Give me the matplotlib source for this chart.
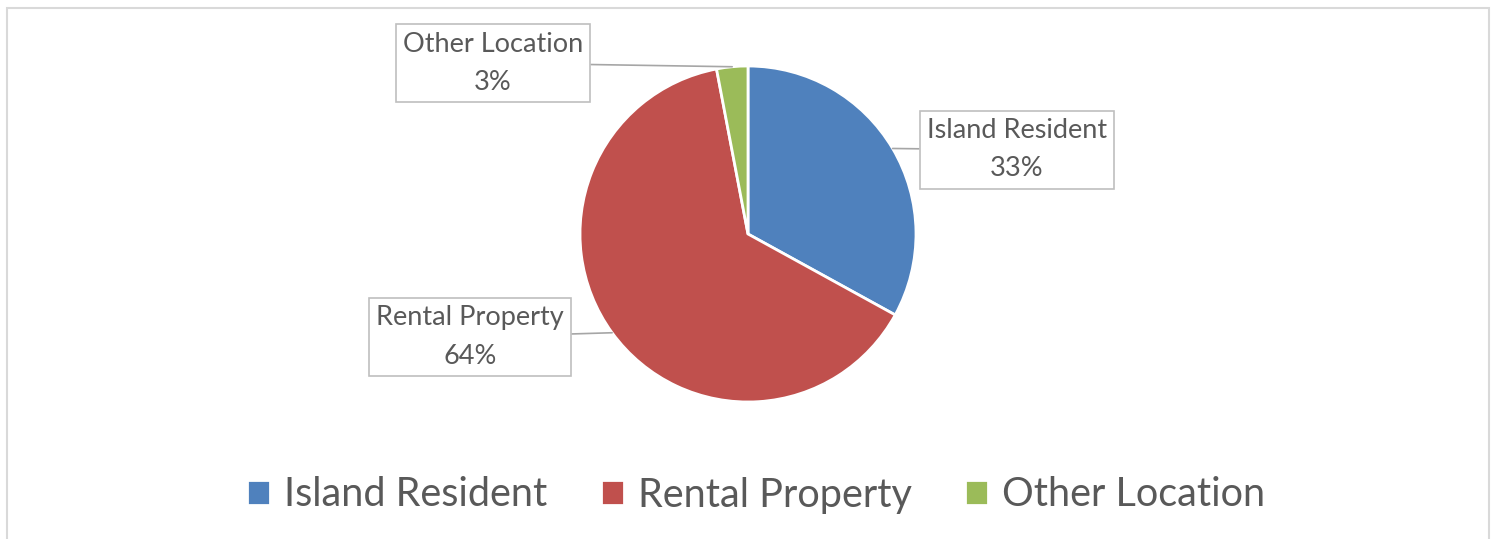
import numpy as np
import matplotlib
matplotlib.use("Agg")
import matplotlib.pyplot as plt
from matplotlib.patches import Rectangle

categories = ["Island Resident", "Rental Property", "Other Location"]
shares = [33, 64, 3]
colors = ["#4F81BD", "#C0504D", "#9BBB59"]

TEXT = "#595959"
W, H = 1495, 539

plt.rcParams["font.family"] = ["Lato", "DejaVu Sans"]

fig = plt.figure(figsize=(W / 100, H / 100), dpi=100)
ax = fig.add_axes([0, 0, 1, 1])

# chart frame (bottom edge is cropped off in the reference)
ax.add_patch(Rectangle((6.5, -10), 1482, H - 7.5 + 10, fill=False,
                       edgecolor="#D9D9D9", lw=1.5))

cx, cy, r = 748, H - 234, 168
wedges, _ = ax.pie(shares, colors=colors, startangle=90, counterclock=False,
                   center=(cx, cy), radius=r, frame=True,
                   wedgeprops=dict(edgecolor="white", linewidth=2))
ax.set_xlim(0, W)
ax.set_ylim(0, H)
ax.set_aspect("equal")
ax.axis("off")

# label box centres (pixel coords from top-left)
label_pos = [(1017, 150), (470, 337), (493, 63)]
for w, cat, val, (lx, ly) in zip(wedges, categories, shares, label_pos):
    mid = np.deg2rad((w.theta1 + w.theta2) / 2)
    px, py = cx + r * np.cos(mid), cy + r * np.sin(mid)
    ax.annotate(f"{cat}\n{val}%", xy=(px, py), xytext=(lx, H - ly),
                ha="center", va="center", fontsize=19.5, color=TEXT,
                linespacing=1.65,
                bbox=dict(boxstyle="square,pad=0.27", fc="white", ec="#BFBFBF", lw=1.2),
                arrowprops=dict(arrowstyle="-", color="#A6A6A6", lw=1.2,
                                shrinkA=0, shrinkB=0))

leg = fig.legend(wedges, categories, loc="center", bbox_to_anchor=(756 / W, 1 - 495 / H),
                 ncol=3, frameon=False, fontsize=28.5, handlelength=0.58, handleheight=0.58,
                 handletextpad=0.35, columnspacing=1.35, labelcolor=TEXT)

fig.savefig("out.png", dpi=100)
